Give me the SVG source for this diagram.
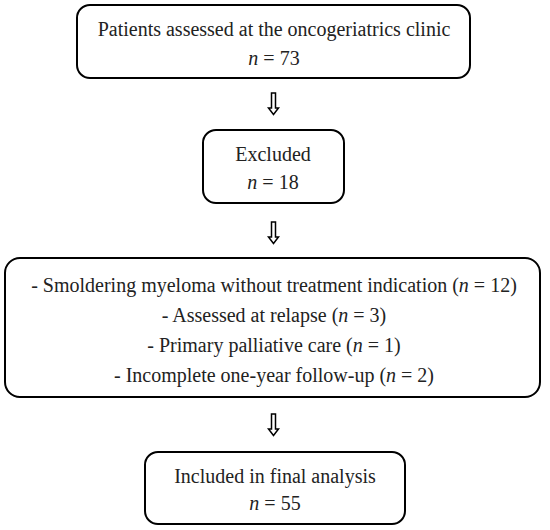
<svg xmlns="http://www.w3.org/2000/svg" width="550" height="530" viewBox="0 0 550 530">
<defs>
<style>
.box{fill:#fff;stroke:#000;stroke-width:2}
.t{font-family:"Liberation Serif","Times New Roman",serif;font-size:20px;fill:#222;text-anchor:middle}
.i{font-style:italic}
.arr{fill:#fff;stroke:#000;stroke-width:1.5;stroke-linejoin:miter}
</style>
</defs>
<rect width="550" height="530" fill="#fff"/>
<g id="connectors">
<path class="arr" d="M271.5,93 h4 v15 h3 l-5,6.5 l-5,-6.5 h3 z"/>
<path class="arr" d="M271.5,222 h4 v15 h3 l-5,6.5 l-5,-6.5 h3 z"/>
<path class="arr" d="M271.5,414 h4 v15 h3 l-5,6.5 l-5,-6.5 h3 z"/>
</g>
<g id="node1">
<rect class="box" x="77" y="5" width="393" height="73" rx="13"/>
<text class="t" x="274" y="36">Patients assessed at the oncogeriatrics clinic</text>
<text class="t" x="274" y="65"><tspan class="i">n</tspan> = 73</text>
</g>
<g id="node2">
<rect class="box" x="203" y="130" width="141" height="73" rx="13"/>
<text class="t" x="273" y="161">Excluded</text>
<text class="t" x="273" y="189"><tspan class="i">n</tspan> = 18</text>
</g>
<g id="node3">
<rect class="box" x="5" y="258" width="535" height="139" rx="15"/>
<text class="t" x="274" y="292">- Smoldering myeloma without treatment indication (<tspan class="i">n</tspan> = 12)</text>
<text class="t" x="274" y="322">- Assessed at relapse (<tspan class="i">n</tspan> = 3)</text>
<text class="t" x="274" y="352">- Primary palliative care (<tspan class="i">n</tspan> = 1)</text>
<text class="t" x="274" y="382">- Incomplete one-year follow-up (<tspan class="i">n</tspan> = 2)</text>
</g>
<g id="node4">
<rect class="box" x="145" y="452" width="260" height="72" rx="13"/>
<text class="t" x="275" y="483">Included in final analysis</text>
<text class="t" x="275" y="510"><tspan class="i">n</tspan> = 55</text>
</g>
</svg>
